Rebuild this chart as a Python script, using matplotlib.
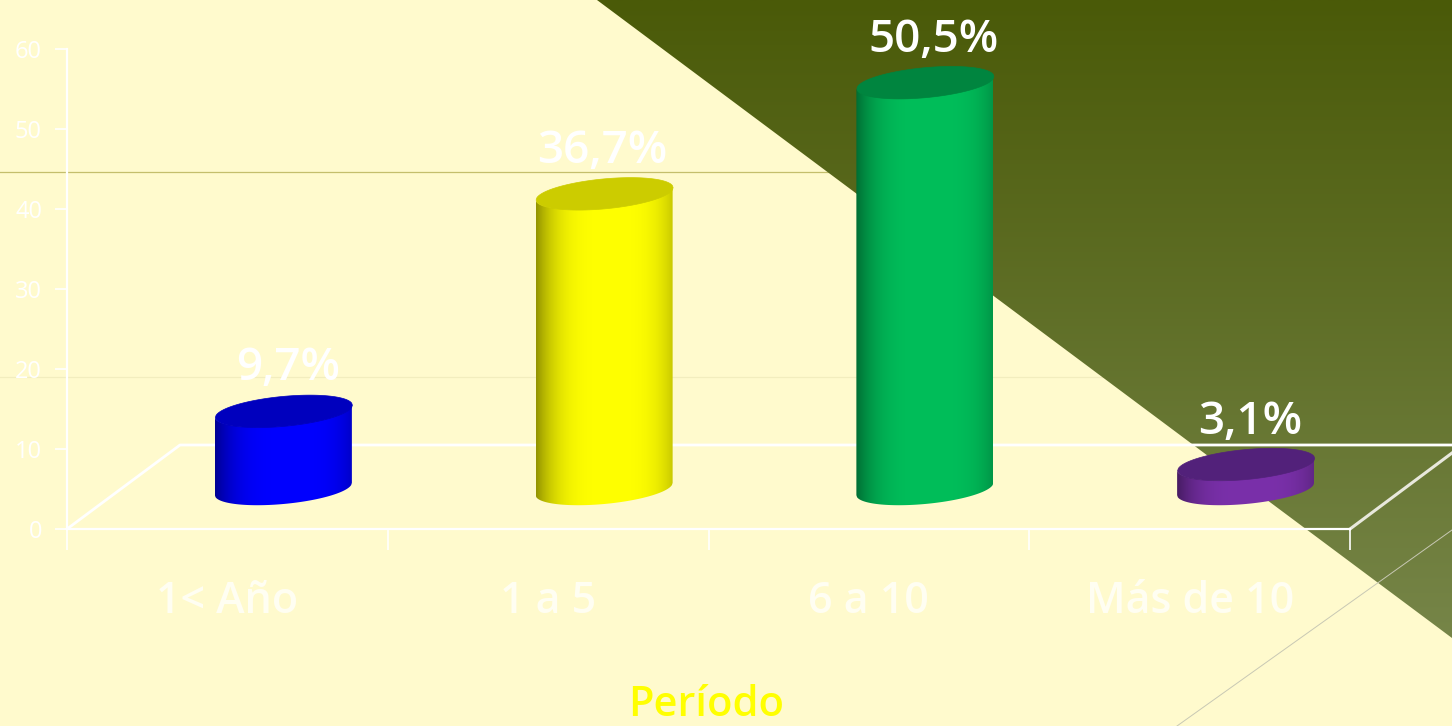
import numpy as np
import matplotlib
matplotlib.use('Agg')
import matplotlib.pyplot as plt
from matplotlib.colors import to_rgb
from matplotlib.patches import Polygon

categories = ['1< Año', '1 a 5', '6 a 10', 'Más de 10']
values = [9.7, 36.7, 50.5, 3.1]
value_labels = ['9,7%', '36,7%', '50,5%', '3,1%']
y_ticks = [0, 10, 20, 30, 40, 50, 60]
x_title = 'Período'

side_colors = ['#0000FF', '#FFFF00', '#00BE5A', '#7A30AA']
top_colors = ['#0000BE', '#CCCC00', '#00853F', '#52217A']

W, H = 1452, 726
plt.rcParams['font.family'] = ['Open Sans', 'DejaVu Sans']

fig = plt.figure(figsize=(W / 100, H / 100), dpi=100, facecolor='#FFFACD')

# fondo en pixeles
bg = fig.add_axes([0, 0, 1, 1])
bg.set_xlim(0, W)
bg.set_ylim(H, 0)
bg.axis('off')

bg.plot([0, 900], [172, 172], color='#C4BE6C', lw=0.9, zorder=0.5)
bg.plot([0, 1150], [377, 377], color='#F2EDBE', lw=0.9, zorder=0.5)

grad = np.linspace(0, 1, 256)[:, None, None] * (np.array(to_rgb('#768548')) - np.array(to_rgb('#4A5A08'))) + np.array(to_rgb('#4A5A08'))
im = bg.imshow(grad, extent=[597, W, 638, 0], aspect='auto', zorder=1)
tri = Polygon([(597, 0), (W, 0), (W, 638)], transform=bg.transData, fc='none', ec='none')
bg.add_patch(tri)
im.set_clip_path(tri)
bg.set_xlim(0, W)
bg.set_ylim(H, 0)

bg.plot([1177, W], [726, 530], color='#C8C8B4', lw=0.7, zorder=2)
bg.plot([67, 180, W], [529, 445, 445], color='white', lw=2, zorder=2)
bg.plot([1350, W], [529, 453], color='#E8E8DC', lw=2.2, zorder=2)

# ejes del grafico: 67-1350 px en x, 529-49 px en y
ax = fig.add_axes([67 / W, 1 - 529 / H, (1350 - 67) / W, (529 - 49) / H])
ax.patch.set_alpha(0)
ax.set_xlim(0, 4)
ax.set_ylim(0, 60)
for s in ['top', 'right']:
    ax.spines[s].set_visible(False)
for s in ['left', 'bottom']:
    ax.spines[s].set_color('white')
    ax.spines[s].set_linewidth(1.6)
ax.set_yticks(y_ticks)
ax.tick_params(axis='y', colors='white', length=9, width=1.2, labelsize=17, pad=9)
ax.set_xticks(np.arange(4) + 0.5)
ax.set_xticklabels(categories, fontsize=31, fontweight='semibold', color='#FFFEF2')
ax.tick_params(axis='x', which='major', length=0, pad=37)
ax.set_xticks(np.arange(5), minor=True)
ax.tick_params(axis='x', which='minor', colors='white', length=15, width=1.2)

px_x = 4 / (1350 - 67)   # unidades de datos por pixel
px_y = 60 / (529 - 49)
half_w = 68.5 * px_x
semi = 15 * px_y
shear = 0.09 * px_y / px_x
base = 40 * px_y
offset = 56 * px_x
stretch = 1.007
label_dx = [5, -2, 9, 5]


def ellipse_edge(xc, yc, xs, sign):
    u = np.clip((xs - xc) / half_w, -1, 1)
    return yc + shear * (xs - xc) + sign * semi * np.sqrt(1 - u ** 2)


for i, v in enumerate(values):
    xc = i + 0.5 + offset
    y0 = base
    y1 = base + v * stretch
    xs = np.linspace(xc - half_w, xc + half_w, 200)

    outline = np.concatenate([
        np.column_stack([xs, ellipse_edge(xc, y0, xs, -1)]),
        np.column_stack([xs[::-1], ellipse_edge(xc, y1, xs[::-1], -1)]),
    ])
    body = Polygon(outline, transform=ax.transData, fc='none', ec='none', zorder=3)
    ax.add_patch(body)

    # sombreado del cilindro
    d = (np.linspace(0, 1, 137) - 0.55) / 0.55
    shade = 1 - 0.42 * np.abs(d) ** 3.5
    img = shade[None, :, None] * np.array(to_rgb(side_colors[i]))[None, None, :]
    cyl = ax.imshow(img, extent=[xc - half_w, xc + half_w, y0 - 3 * semi, y1 + 3 * semi],
                    aspect='auto', zorder=3, interpolation='bilinear')
    cyl.set_clip_path(body)

    ax.fill_between(xs, ellipse_edge(xc, y1, xs, -1), ellipse_edge(xc, y1, xs, 1),
                    color=top_colors[i], lw=0.5, zorder=4)
    ax.text(xc + label_dx[i] * px_x, y1 + 42 * px_y, value_labels[i], ha='center', va='center',
            fontsize=33, fontweight='semibold', color='white', zorder=5, clip_on=False)

ax.set_xlim(0, 4)
ax.set_ylim(0, 60)

fig.text(706 / W, 1 - 705 / H, x_title, ha='center', va='center', fontsize=30,
         fontweight='semibold', color='#FFFF00')

fig.savefig('out.png', dpi=100, facecolor=fig.get_facecolor())
